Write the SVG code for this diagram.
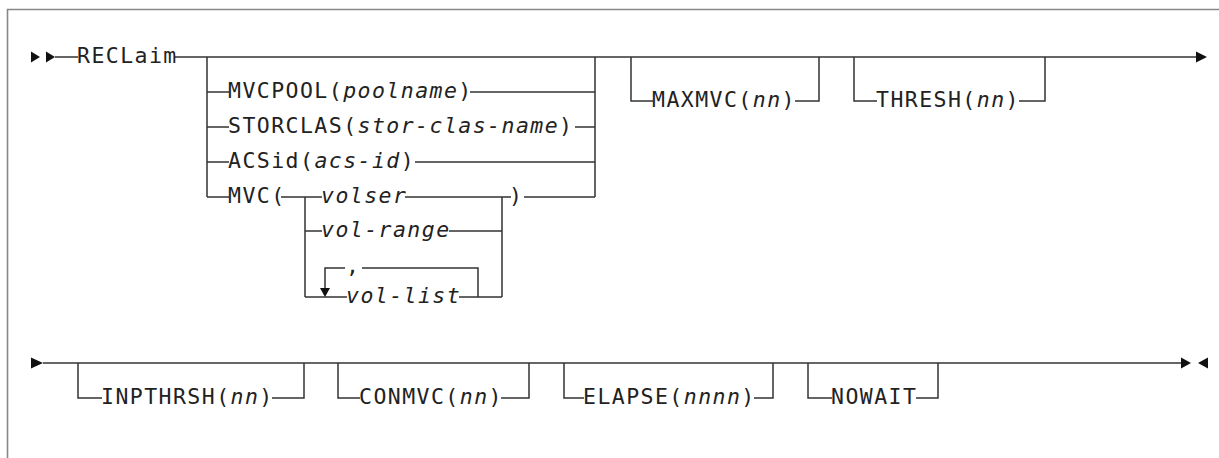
<svg xmlns="http://www.w3.org/2000/svg" width="1219" height="458" viewBox="0 0 1219 458">
<style>
.t{font-family:"DejaVu Sans Mono","Liberation Mono",monospace;font-size:21.5px;letter-spacing:1.45px;fill:#222}
.i{font-style:italic}
.ln{stroke:#333;stroke-width:1.5;fill:none}
.fr{stroke:#888;stroke-width:1.6;fill:none}
.ah{fill:#111}
</style>
<rect width="1219" height="458" fill="#fff"/>
<path class="fr" d="M7.5 458 V9.5 H1219"/>
<g id="connectors">
  <path class="ln" d="M55 57 H78 M175 57 H1198"/>
  <polygon class="ah" points="31,51.5 40,57 31,62.5"/>
  <polygon class="ah" points="46,51.5 55,57 46,62.5"/>
  <polygon class="ah" points="1196,51.5 1207,57 1196,62.5"/>
  <path class="ln" d="M207 57 V197 M595 57 V197"/>
  <path class="ln" d="M207 92 H229 M470 92 H595"/>
  <path class="ln" d="M207 127 H229 M575 127 H595"/>
  <path class="ln" d="M207 162 H229 M415 162 H595"/>
  <path class="ln" d="M207 197 H229 M281 197 H322 M405 197 H511 M524 197 H595"/>
  <path class="ln" d="M305 197 V297 M502 197 V297"/>
  <path class="ln" d="M305 231 H322 M449 231 H502"/>
  <path class="ln" d="M305 297 H347 M459 297 H502"/>
  <path class="ln" d="M325 289 V268 H345 M362 268 H478 V297"/>
  <polygon class="ah" points="320,288 330,288 325,297"/>
  <path class="ln" d="M631 57 V101 H653 M795 101 H819 V57"/>
  <path class="ln" d="M854 57 V101 H877 M1019 101 H1045 V57"/>
  <path class="ln" d="M43 363 H1183"/>
  <polygon class="ah" points="31,357.5 43,363 31,368.5"/>
  <polygon class="ah" points="1181,357.5 1191,363 1181,368.5"/>
  <polygon class="ah" points="1208,357.5 1198,363 1208,368.5"/>
  <path class="ln" d="M78 363 V398 H102 M272 398 H304 V363"/>
  <path class="ln" d="M338 363 V398 H360 M501 398 H529 V363"/>
  <path class="ln" d="M564 363 V398 H584 M754 398 H773 V363"/>
  <path class="ln" d="M808 363 V398 H832 M916 398 H938 V363"/>
</g>
<g id="n-reclaim"><text class="t" x="77" y="63">RECLaim</text></g>
<g id="n-mvcpool"><text class="t" x="228" y="98">MVCPOOL(<tspan class="i">poolname</tspan>)</text></g>
<g id="n-storclas"><text class="t" x="228" y="133">STORCLAS(<tspan class="i">stor-clas-name</tspan>)</text></g>
<g id="n-acsid"><text class="t" x="228" y="168">ACSid(<tspan class="i">acs-id</tspan>)</text></g>
<g id="n-mvc"><text class="t" x="228" y="203">MVC(</text></g>
<g id="n-volser"><text class="t i" x="321" y="203">volser</text></g>
<g id="n-mvc-close"><text class="t" x="509" y="203">)</text></g>
<g id="n-volrange"><text class="t i" x="321" y="237">vol-range</text></g>
<g id="n-comma"><text class="t" x="346" y="273">,</text></g>
<g id="n-vollist"><text class="t i" x="346" y="303">vol-list</text></g>
<g id="n-maxmvc"><text class="t" x="652" y="107">MAXMVC(<tspan class="i">nn</tspan>)</text></g>
<g id="n-thresh"><text class="t" x="876" y="107">THRESH(<tspan class="i">nn</tspan>)</text></g>
<g id="n-inpthrsh"><text class="t" x="101" y="404">INPTHRSH(<tspan class="i">nn</tspan>)</text></g>
<g id="n-conmvc"><text class="t" x="359" y="404">CONMVC(<tspan class="i">nn</tspan>)</text></g>
<g id="n-elapse"><text class="t" x="583" y="404">ELAPSE(<tspan class="i">nnnn</tspan>)</text></g>
<g id="n-nowait"><text class="t" x="831" y="404">NOWAIT</text></g>
</svg>
